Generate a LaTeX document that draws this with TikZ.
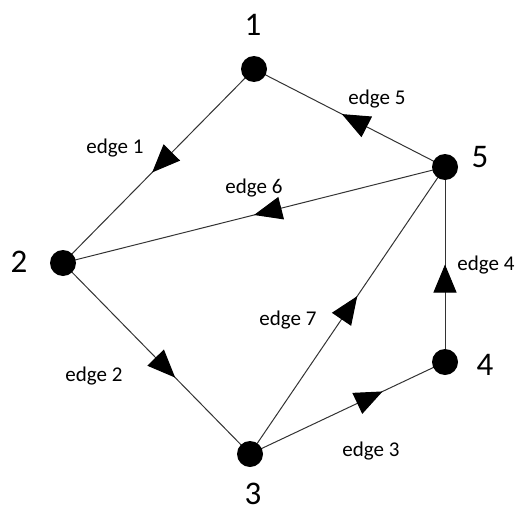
\documentclass[tikz,border=0pt]{standalone}
\usepackage{fontspec}
\setmainfont{Carlito}
\usetikzlibrary{arrows.meta,decorations.markings,backgrounds}
\begin{document}
\begin{tikzpicture}[x=1pt,y=-1pt,
  vtx/.style={circle,fill=black,inner sep=0pt,minimum size=26pt},
  num/.style={inner sep=0pt,font=\fontsize{33}{40}\selectfont},
  elab/.style={inner sep=0pt,anchor=base,font=\fontsize{21}{24}\selectfont},
  edgeline/.style={draw=black!80,line width=1pt},
  midarrow/.style={postaction={decorate},decoration={markings,
     mark=at position #1 with {\arrow[black]{Triangle[length=28pt,width=23pt]}}}}]
\useasboundingbox (0,0) rectangle (519,511);
\node[vtx] (n1) at (254,69) {};
\node[vtx] (n2) at (63,263) {};
\node[vtx] (n3) at (250,454) {};
\node[vtx] (n4) at (445,362) {};
\node[vtx] (n5) at (445,167) {};
\node[num] (l1) at (253,25) {1};
\node[num] (l2) at (19,262) {2};
\node[num] (l3) at (253,494) {3};
\node[num] (l4) at (485,365) {4};
\node[num] (l5) at (480,157) {5};
\begin{scope}[on background layer]
\draw[edgeline,midarrow=0.533] (n1.center) -- (n2.center);
\draw[edgeline,midarrow=0.54] (n5.center) -- (n1.center);
\draw[edgeline,midarrow=0.5] (n5.center) -- (n2.center);
\draw[edgeline,midarrow=0.6] (n2.center) -- (n3.center);
\draw[edgeline,midarrow=0.68] (n3.center) -- (n4.center);
\draw[edgeline,midarrow=0.55] (n3.center) -- (n5.center);
\draw[edgeline,midarrow=0.5] (n4.center) -- (n5.center);
\end{scope}
\node[elab] (e1) at (115,153) {edge 1};
\node[elab] (e2) at (94,381) {edge 2};
\node[elab] (e3) at (371,456) {edge 3};
\node[elab] (e4) at (486,270) {edge 4};
\node[elab] (e5) at (377,104) {edge 5};
\node[elab] (e6) at (254,193) {edge 6};
\node[elab] (e7) at (288,325) {edge 7};
\end{tikzpicture}
\end{document}
